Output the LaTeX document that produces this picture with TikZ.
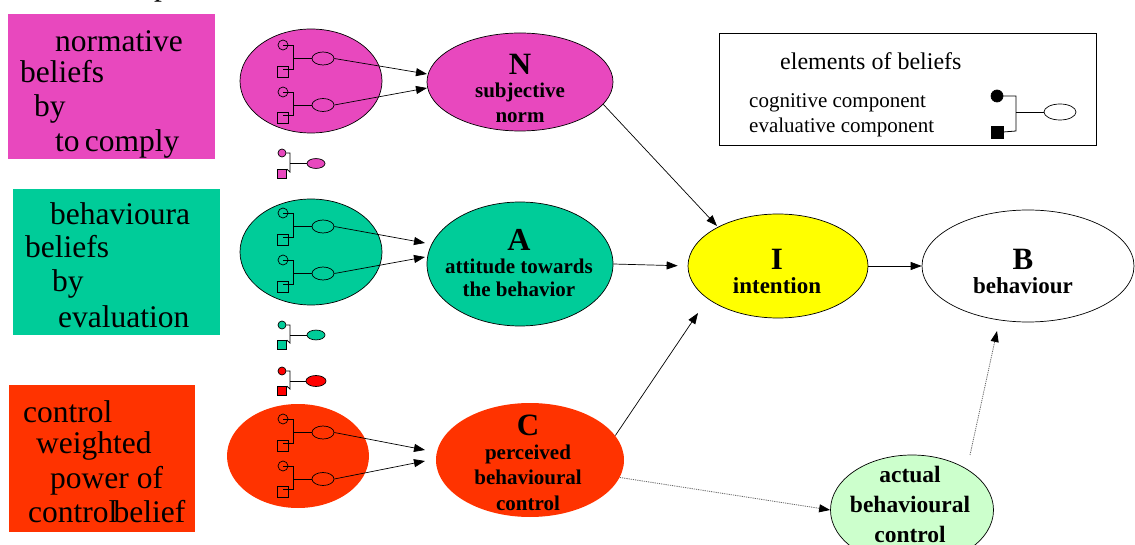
\documentclass[tikz,border=0pt]{standalone}
\usepackage{fontspec}
\setmainfont{Liberation Serif}
\usetikzlibrary{shapes.geometric,arrows.meta}
\definecolor{pinkc}{RGB}{232,72,190}
\definecolor{tealc}{RGB}{0,204,153}
\definecolor{orangec}{RGB}{255,51,0}
\definecolor{redc}{RGB}{255,0,0}
\definecolor{yellowc}{RGB}{255,255,0}
\definecolor{lgreenc}{RGB}{204,255,204}
\tikzset{
  gcirc/.style={circle,draw,inner sep=0pt,line width=0.7pt},
  gsq/.style={rectangle,draw,inner sep=0pt,line width=0.7pt},
  gell/.style={ellipse,draw,inner sep=0pt,line width=0.7pt},
  glin/.style={line width=0.8pt},
  bigell/.style={ellipse,inner sep=0pt,line width=0.7pt},
  arr/.style={-{Triangle[length=11pt,width=8pt]},line width=0.7pt},
  dotarr/.style={-{Triangle[length=11pt,width=8pt,color=black]},black!60,line width=0.8pt,dash pattern=on 1.2pt off 1pt},
  btext/.style={anchor=base west,inner sep=0pt,font=\fontsize{31.5}{33}\selectfont},
  bigletter/.style={anchor=base,inner sep=0pt,font=\bfseries\fontsize{31}{31}\selectfont},
  etxt/.style={anchor=base,inner sep=0pt,font=\bfseries\fontsize{21}{24}\selectfont},
  itxt/.style={anchor=base,inner sep=0pt,font=\bfseries\fontsize{23}{26}\selectfont},
  acttxt/.style={anchor=base,inner sep=0pt,font=\bfseries\fontsize{23.5}{26}\selectfont},
  legtitle/.style={anchor=base west,inner sep=0pt,font=\fontsize{24}{26}\selectfont},
  legtxt/.style={anchor=base west,inner sep=0pt,font=\fontsize{21}{24}\selectfont},
  cbox/.style={rectangle,inner sep=0pt,anchor=north west}
}
\newcommand{\bigglyph}[4]{%
  \node[gcirc,minimum size=10pt] (#1c) at (#2,#3) {};
  \node[gsq,minimum size=11pt] (#1s) at (#2,#4) {};
  \node[gell,minimum width=22pt,minimum height=13pt] (#1e) at ({#2+40},{(#3+#4)/2}) {};
  \draw[glin] (#1c.center) -- ({#2+10},#3) -- ({#2+10},{#4-3}) -- ({#2},{#4-3});
  \draw[glin] ({#2+10},{(#3+#4)/2}) -- (#1e.west);
}
\newcommand{\smallglyph}[6]{%
  \node[gcirc,fill=#5,minimum size=8pt] (#1c) at (#2,#3) {};
  \node[gsq,fill=#5,minimum size=9pt] (#1s) at (#2,#4) {};
  \node[gell,fill=#5,minimum width=#6pt,minimum height={#6*0.55pt}] (#1e) at ({#2+34},{(#3+#4)/2}) {};
  \draw[glin] (#1c.east) -- ({#2+8},#3) -- ({#2+8},{#4-2}) -- (#1s.north east);
  \draw[glin] ({#2+8},{(#3+#4)/2}) -- (#1e.west);
}
\begin{document}
\begin{tikzpicture}[x=1pt,y=-1pt]
\useasboundingbox (0,0) rectangle (1135,545);
% cut-off fragment at the top
\node[anchor=base,inner sep=0pt,font=\fontsize{31.5}{33}\selectfont] (frag) at (162,-4) {p};

% left coloured boxes
\node[cbox,fill=pinkc,minimum width=207pt,minimum height=145pt] (nbox) at (8,14) {};
\node[btext] (nb1) at (55,52) {normative};
\node[btext] (nb2) at (20,83) {beliefs};
\node[btext] (nb3) at (34,117) {by};
\node[btext] (nb4) at (55,152) {to\,comply};

\node[cbox,fill=tealc,minimum width=207pt,minimum height=146pt] (bbox) at (13,189) {};
\node[btext] (bb1) at (50,225) {behavioura};
\node[btext] (bb2) at (25,258) {beliefs};
\node[btext] (bb3) at (52,292) {by};
\node[btext] (bb4) at (58,327) {evaluation};

\node[cbox,fill=orangec,minimum width=186pt,minimum height=147pt] (cbx) at (9,385) {};
\node[btext] (cb1) at (23,422) {control};
\node[btext] (cb2) at (36,453) {weighted};
\node[btext] (cb3) at (50,488) {power of};
\node[btext] (cb4) at (28,522) {control\kern-0.12em belief};

% left belief ellipses
\node[bigell,draw,fill=pinkc,minimum width=142pt,minimum height=104pt] (pell) at (311,81) {};
\bigglyph{pa}{283}{45}{72}
\bigglyph{pb}{283}{92}{118}
\smallglyph{ps}{282}{153}{174}{pinkc}{18}

\node[bigell,draw,fill=tealc,minimum width=142pt,minimum height=106pt] (gell) at (311,252) {};
\bigglyph{ga}{283}{213}{240}
\bigglyph{gb}{283}{260}{287}
\smallglyph{gs}{282}{325}{345}{tealc}{18}
\smallglyph{rs}{282}{371}{391}{redc}{20}

\node[bigell,fill=orangec,minimum width=142pt,minimum height=104pt] (rell) at (298,456) {};
\bigglyph{ra}{283}{419}{446}
\bigglyph{rb}{283}{466}{492}

% central nodes
\node[bigell,draw,fill=pinkc,minimum width=186pt,minimum height=98pt] (N) at (520,82) {};
\node[bigletter] (Nl) at (520,75) {N};
\node[etxt] (N1) at (520,98) {subjective};
\node[etxt] (N2) at (520,123) {norm};

\node[bigell,draw,fill=tealc,minimum width=186pt,minimum height=124pt] (A) at (520,264) {};
\node[bigletter,font=\bfseries\fontsize{32}{32}\selectfont] (Al) at (519,251) {A};
\node[etxt] (A1) at (519,274) {attitude towards};
\node[etxt] (A2) at (519,297) {the behavior};

\node[bigell,fill=orangec,minimum width=188pt,minimum height=114pt] (C) at (530,460) {};
\node[bigletter] (Cl) at (528,435) {C};
\node[etxt] (C1) at (528,459) {perceived};
\node[etxt] (C2) at (528,484) {behavioural};
\node[etxt] (C3) at (528,510) {control};

\node[bigell,draw,fill=yellowc,minimum width=180pt,minimum height=104pt] (I) at (778,266) {};
\node[bigletter] (Il) at (777,270) {I};
\node[itxt] (I1) at (777,294) {intention};

\node[bigell,draw,fill=white,minimum width=212pt,minimum height=112pt] (B) at (1028,266) {};
\node[bigletter] (Bl) at (1023,270) {B};
\node[itxt] (B1) at (1023,294) {behaviour};

\node[bigell,draw,fill=lgreenc,minimum width=163pt,minimum height=110pt] (act) at (912,510) {};
\node[acttxt] (act1) at (910,482) {actual};
\node[acttxt] (act2) at (910,512) {behavioural};
\node[acttxt] (act3) at (910,542) {control};

% legend
\node[cbox,draw,fill=white,line width=0.7pt,minimum width=377pt,minimum height=112pt] (leg) at (719,33) {};
\node[legtitle] (lg1) at (780,70) {elements of beliefs};
\node[legtxt] (lg2) at (749,108) {cognitive component};
\node[legtxt] (lg3) at (749,133) {evaluative component};
\node[gcirc,fill=black,minimum size=12pt] (lgc) at (997,96) {};
\node[gsq,fill=black,minimum size=12pt] (lgs) at (997,132) {};
\node[gell,fill=white,minimum width=32pt,minimum height=16pt] (lge) at (1060,112) {};
\draw[glin] (lgc.center) -- (1016,96) -- (1016,131) -- (lgs.east);
\draw[glin] (1016,112) -- (lge.west);

% arrow end points
\coordinate (Nt1) at (427,74);
\coordinate (Nt2) at (427,88);
\coordinate (At1) at (425,243);
\coordinate (At2) at (425,257);
\coordinate (Ct1) at (425,450);
\coordinate (Ct2) at (425,461);
\coordinate (INt) at (717,226);
\coordinate (ICt) at (698,313);
\coordinate (actS) at (970,455);
\coordinate (Bt) at (997,331);

% connectors
\draw[arr] (pae.east) -- (Nt1);
\draw[arr] (pbe.east) -- (Nt2);
\draw[arr] (gae.east) -- (At1);
\draw[arr] (gbe.east) -- (At2);
\draw[arr] (rae.east) -- (Ct1);
\draw[arr] (rbe.east) -- (Ct2);
\draw[arr] (N.-15) -- (INt);
\draw[arr,shorten >=10pt] (A.east) -- (I.west);
\draw[arr] (C.16) -- (ICt);
\draw[arr] (I.east) -- (B.west);
\draw[dotarr] (C.-11) -- (act.west);
\draw[dotarr] (actS) -- (Bt);
\end{tikzpicture}
\end{document}
